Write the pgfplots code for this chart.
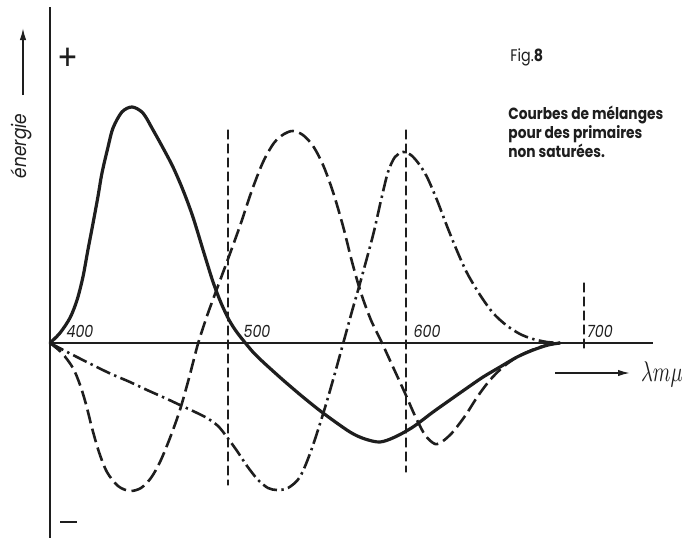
\documentclass[border=0pt]{standalone}
\usepackage{pgfplots}
\pgfplotsset{compat=1.18}
\usepackage{fontspec}
\newfontfamily\geo{Poppins}[FakeStretch=0.85]
\usetikzlibrary{arrows.meta}

\definecolor{ink}{HTML}{1E1E1E}

% mixing curves (wavelength in m-mu, energy in arbitrary units)
\pgfplotstableread{
lam   E
400   0
405.6 0.10
411.2 0.25
415.2 0.43
418.5 0.66
421.3 0.93
424.2 1.20
427.0 1.47
429.2 1.70
432.6 1.96
435.4 2.15
440.4 2.31
446.1 2.36
452.2 2.30
457.9 2.13
463.5 1.95
469.1 1.76
474.7 1.53
480.3 1.26
486.5 0.90
491.6 0.61
496.1 0.40
500.6 0.23
504.5 0.12
508.4 0.03
514.0 -0.09
519.7 -0.19
530.9 -0.37
542.1 -0.54
553.4 -0.70
568.5 -0.89
577.0 -0.96
585.4 -0.99
593.8 -0.94
603.9 -0.84
615.2 -0.69
624.7 -0.57
634.3 -0.45
643.3 -0.34
652.8 -0.24
662.4 -0.14
671.4 -0.07
679.8 -0.02
686.5 0
}\solidcurve

\pgfplotstableread{
lam   E
400   0
406.7 -0.10
412.9 -0.25
416.9 -0.42
420.2 -0.61
423.6 -0.85
427.5 -1.09
432.0 -1.29
438.2 -1.43
444.9 -1.48
451.1 -1.45
456.7 -1.35
461.8 -1.19
467.4 -0.95
473.0 -0.67
478.1 -0.35
483.1 -0.01
488.2 0.27
492.7 0.49
500.0 0.84
506.7 1.17
513.5 1.53
519.7 1.81
525.8 2.00
531.5 2.09
536.5 2.12
542.1 2.08
547.8 1.97
553.4 1.78
559.0 1.51
564.6 1.17
569.7 0.81
574.7 0.50
580.3 0.23
586.0 0.02
592.7 -0.24
599.4 -0.50
605.1 -0.73
610.7 -0.92
616.3 -1.01
620.8 -0.98
625.8 -0.90
630.3 -0.80
634.3 -0.70
640.4 -0.53
647.2 -0.37
654.5 -0.24
662.4 -0.14
670.8 -0.07
679.2 -0.02
686.5 0
}\dashedcurve

\pgfplotstableread{
lam   E
400   0
412.9 -0.12
432.0 -0.29
444.9 -0.39
454.5 -0.47
464.6 -0.55
473.0 -0.62
481.5 -0.69
488.2 -0.75
494.4 -0.83
499.4 -0.94
505.1 -1.08
510.7 -1.23
516.9 -1.37
522.5 -1.45
527.5 -1.47
533.7 -1.45
540.4 -1.34
546.6 -1.08
553.4 -0.71
559.0 -0.37
564.6 -0.01
569.7 0.32
574.2 0.60
581.5 1.08
586.0 1.43
589.9 1.71
593.8 1.86
598.3 1.91
602.8 1.88
607.3 1.79
611.8 1.66
617.4 1.43
623.0 1.17
628.7 0.92
634.3 0.70
641.6 0.48
648.9 0.30
656.2 0.18
664.0 0.09
671.3 0.04
679.2 0.01
686.5 0
}\dashdotcurve

\begin{document}
\begin{tikzpicture}
\begin{axis}[
  scale only axis,
  width=302.6pt, height=265.5pt,
  xmin=400, xmax=740, ymin=-1.95, ymax=3.36,
  axis lines=none, clip=false,
  every axis plot/.append style={ink, line cap=round, line join=round},
]
% reference lines at 500 and 600, short tick at 700
\addplot[line width=0.6pt, dash pattern=on 4.5pt off 2.5pt] coordinates {(500,2.13) (500,-1.42)};
\addplot[line width=0.6pt, dash pattern=on 4.5pt off 2.5pt] coordinates {(600,2.13) (600,-1.29)};
\addplot[line width=0.6pt, dash pattern=on 4.5pt off 2.5pt] coordinates {(700,0.60) (700,-0.05)};

\addplot[line width=1.6pt, smooth, tension=0.5] table[x=lam, y=E] {\solidcurve};
\addplot[line width=1.3pt, smooth, tension=0.5, line cap=butt, dash pattern=on 7pt off 2.8pt] table[x=lam, y=E] {\dashedcurve};
\addplot[line width=1.3pt, smooth, tension=0.5, line cap=butt, dash pattern=on 7.5pt off 2.2pt on 1.2pt off 2.2pt] table[x=lam, y=E] {\dashdotcurve};
\end{axis}

% annotations, placed in image units (0.5pt each, y downward)
\begin{scope}[x=0.5pt, y=-0.5pt, shift={(-25pt,269pt)}, ink]
  \draw[line width=0.7pt] (50,7) -- (50,538);
  \draw[line width=0.7pt] (50,343) -- (653,343);
  % axis arrows
  \draw[line width=0.8pt, -{Latex[length=6pt,width=3.2pt]}] (23,95) -- (23,28);
  \draw[line width=0.8pt, -{Latex[length=6pt,width=3.2pt]}] (555,373) -- (630,373);
  \node[rotate=90, font=\geo\itshape\fontsize{10}{12}\selectfont] at (21,146) {énergie};
  \node[font=\fontsize{11}{12}\selectfont] at (662,374) {\scalebox{0.92}[1.3]{$\lambda m\mu$}};
  % signs of the energy axis
  \node[font=\geo\fontsize{18}{20}\selectfont, inner sep=0pt] at (68,59) {+};
  \node[inner sep=0pt] at (69,522) {\rule{8.5pt}{1.1pt}};
  % tick labels
  \begin{scope}[every node/.style={font=\geo\itshape\fontsize{8.4}{10}\selectfont, inner sep=0pt}]
    \node at (80,331) {400};
    \node at (257,331) {500};
    \node at (427,331) {600};
    \node at (600,331) {700};
  \end{scope}
  % caption
  \node[anchor=west, inner sep=0pt, font=\geo\fontsize{8.4}{9}\selectfont] at (510,57) {Fig.{\bfseries 8}};
  \node[anchor=north west, inner sep=0pt, align=left, font=\geo\bfseries\fontsize{8.1}{9.5}\selectfont] at (508,106)
    {Courbes de mélanges\\pour des primaires\\non saturées.};
  \pgfresetboundingbox
  \path (0,0) rectangle (697,538);
\end{scope}
\end{tikzpicture}
\end{document}
